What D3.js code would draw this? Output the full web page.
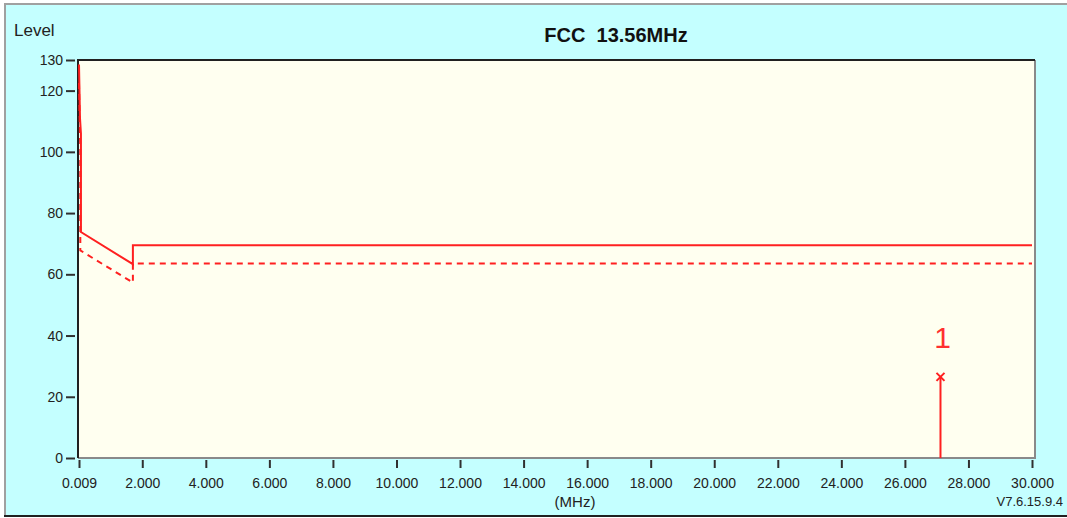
<!DOCTYPE html>
<html>
<head>
<meta charset="utf-8">
<script src="https://cdn.jsdelivr.net/npm/d3@7"></script>
<style>
  body { margin: 0; background: #ffffff; }
  svg { display: block; font-family: "Liberation Sans", Arial, sans-serif; }
</style>
</head>
<body>
<svg></svg>
<script>
var width = 1067,
    height = 518;

// limit line (solid) and margin line (dashed), [MHz, dBuV/m]
var limitFreq  = [0.009, 0.04, 0.07, 0.07, 1.705, 1.705, 30];
var limitLevel = [128.5, 111, 106, 73.8, 63.3, 69.5, 69.5];
var marginFreq  = [0.009, 0.04, 0.05, 0.05, 1.705, 1.705, 30];
var marginLevel = [122.5, 105, 102, 67.8, 57.3, 63.5, 63.5];

// peak marker
var peakFreq = [27.12];
var peakLevel = [26.5];
var peakLabel = ["1"];

var xTicks = [0.009, 2, 4, 6, 8, 10, 12, 14, 16, 18, 20, 22, 24, 26, 28, 30];
var yTicks = [0, 20, 40, 60, 80, 100, 120, 130];

var plot = {left: 78, top: 60, right: 1035, bottom: 458};

var x = d3.scaleLinear()
          .domain([0.009, 30])
          .range([79, 1032]);

var y = d3.scaleLinear()
          .domain([0, 130])
          .range([plot.bottom, plot.top]);

var svg = d3.select('svg')
            .attr('width', width)
            .attr('height', height);

// outer panel
svg.append('rect')
    .attr('x', 0).attr('y', 0)
    .attr('width', width).attr('height', height)
    .attr('fill', '#ffffff');

svg.append('rect')
    .attr('x', 5).attr('y', 4)
    .attr('width', width - 5).attr('height', 511)
    .attr('fill', '#c4ffff');

svg.append('line')
    .attr('x1', 4).attr('x2', width).attr('y1', 4).attr('y2', 4)
    .attr('stroke', '#a0a0a0').attr('stroke-width', 2);
svg.append('line')
    .attr('x1', 5).attr('x2', 5).attr('y1', 4).attr('y2', 516)
    .attr('stroke', '#a0a0a0').attr('stroke-width', 2);
svg.append('line')
    .attr('x1', 4).attr('x2', width).attr('y1', 516).attr('y2', 516)
    .attr('stroke', '#202020').attr('stroke-width', 2);

// plot area
svg.append('rect')
    .attr('x', plot.left).attr('y', plot.top)
    .attr('width', plot.right - plot.left).attr('height', plot.bottom - plot.top)
    .attr('fill', '#fffff0');

svg.append('path')
    .attr('d', 'M' + plot.right + ',' + plot.top + 'V' + plot.bottom + 'H' + plot.left)
    .attr('fill', 'none')
    .attr('stroke', '#8a8a8a')
    .attr('stroke-width', 2);

svg.append('path')
    .attr('d', 'M' + plot.left + ',' + plot.bottom + 'V' + plot.top + 'H' + plot.right)
    .attr('fill', 'none')
    .attr('stroke', '#202020')
    .attr('stroke-width', 2);

// y axis
var yAxis = d3.axisLeft(y)
              .tickValues(yTicks)
              .tickSize(9)
              .tickPadding(3)
              .tickFormat(d3.format('d'));

var gy = svg.append('g')
    .attr('transform', 'translate(' + (plot.left - 3) + ',0)')
    .call(yAxis);
gy.select('.domain').remove();
gy.selectAll('.tick line').attr('stroke', '#303030').attr('stroke-width', 2);
gy.selectAll('.tick text')
    .attr('fill', '#222')
    .style('font-size', '14px')
    .style('font-family', '"Liberation Sans", Arial, sans-serif');

// x axis
var xAxis = d3.axisBottom(x)
              .tickValues(xTicks)
              .tickSize(8)
              .tickPadding(10)
              .tickFormat(d3.format('.3f'));

var gx = svg.append('g')
    .attr('transform', 'translate(0,' + (plot.bottom + 2) + ')')
    .call(xAxis);
gx.select('.domain').remove();
gx.selectAll('.tick line').attr('stroke', '#303030').attr('stroke-width', 2);
gx.selectAll('.tick text')
    .attr('fill', '#222')
    .style('font-size', '14px')
    .style('font-family', '"Liberation Sans", Arial, sans-serif');

// lines
var line = d3.line()
             .x(d => x(d[0]))
             .y(d => y(d[1]));

var limitData = limitFreq.map((f, i) => [f, limitLevel[i]]);
var marginData = marginFreq.map((f, i) => [f, marginLevel[i]]);

svg.append('path')
    .datum(marginData)
    .attr('d', line)
    .attr('fill', 'none')
    .attr('stroke', '#ff2020')
    .attr('stroke-width', 2)
    .attr('stroke-dasharray', '6,5');

svg.append('path')
    .datum(limitData)
    .attr('d', line)
    .attr('fill', 'none')
    .attr('stroke', '#ff2020')
    .attr('stroke-width', 2);

// peak marker
var peaks = peakFreq.map((f, i) => ({f: f, v: peakLevel[i], label: peakLabel[i]}));

var pk = svg.selectAll('.peak')
            .data(peaks)
            .enter()
            .append('g')
            .classed('peak', true);

pk.append('line')
    .attr('x1', d => x(d.f)).attr('x2', d => x(d.f))
    .attr('y1', y(0)).attr('y2', d => y(d.v))
    .attr('stroke', '#ff2020')
    .attr('stroke-width', 2);

pk.append('path')
    .attr('d', d => {
      var cx = x(d.f), cy = y(d.v), s = 4;
      return 'M' + (cx - s) + ',' + (cy - s) + 'L' + (cx + s) + ',' + (cy + s) +
             'M' + (cx + s) + ',' + (cy - s) + 'L' + (cx - s) + ',' + (cy + s);
    })
    .attr('stroke', '#ff2020')
    .attr('stroke-width', 2);

pk.append('text')
    .attr('x', d => x(d.f) + 2)
    .attr('y', d => y(d.v) - 29)
    .attr('text-anchor', 'middle')
    .attr('fill', '#ff3030')
    .style('font-size', '30px')
    .text(d => d.label);

// texts
svg.append('text')
    .attr('x', 14).attr('y', 36)
    .attr('fill', '#222')
    .style('font-size', '17px')
    .text('Level');

svg.append('text')
    .attr('x', 616).attr('y', 42)
    .attr('text-anchor', 'middle')
    .attr('fill', '#111')
    .style('font-size', '20px')
    .style('font-weight', 'bold')
    .style('white-space', 'pre')
    .text('FCC  13.56MHz');

svg.append('text')
    .attr('x', 575).attr('y', 507)
    .attr('text-anchor', 'middle')
    .attr('fill', '#222')
    .style('font-size', '15px')
    .text('(MHz)');

svg.append('text')
    .attr('x', 1063).attr('y', 506)
    .attr('text-anchor', 'end')
    .attr('fill', '#222')
    .style('font-size', '13px')
    .text('V7.6.15.9.4');
</script>
</body>
</html>
